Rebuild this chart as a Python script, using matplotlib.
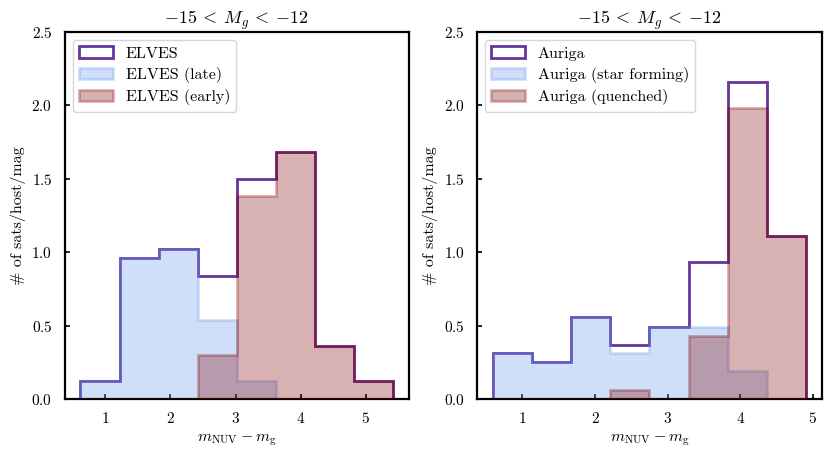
import numpy as np
import matplotlib
matplotlib.use('Agg')
import matplotlib.pyplot as plt

plt.rcParams['font.family'] = 'serif'
plt.rcParams['font.serif'] = ['cmr10']
plt.rcParams['mathtext.fontset'] = 'cm'
plt.rcParams['axes.formatter.use_mathtext'] = True

# ELVES (left panel)
elves_edges = [0.62, 1.22, 1.82, 2.42, 3.02, 3.62, 4.22, 4.82, 5.42]
elves_all = [0.12, 0.96, 1.02, 0.84, 1.50, 1.68, 0.36, 0.12]
elves_late = [0.12, 0.96, 1.02, 0.54, 0.12, 0.0, 0.0, 0.0]
elves_early = [0.0, 0.0, 0.0, 0.30, 1.38, 1.68, 0.36, 0.12]

# Auriga (right panel)
auriga_edges = [0.59, 1.13, 1.67, 2.21, 2.75, 3.29, 3.83, 4.37, 4.91]
auriga_all = [0.31, 0.25, 0.56, 0.37, 0.49, 0.93, 2.16, 1.11]
auriga_sf = [0.31, 0.25, 0.56, 0.31, 0.49, 0.49, 0.19, 0.0]
auriga_q = [0.0, 0.0, 0.0, 0.06, 0.0, 0.43, 1.98, 1.11]

panels = [
    (elves_edges, elves_all, elves_late, elves_early,
     ['ELVES', 'ELVES (late)', 'ELVES (early)']),
    (auriga_edges, auriga_all, auriga_sf, auriga_q,
     ['Auriga', 'Auriga (star forming)', 'Auriga (quenched)']),
]

fig = plt.figure(figsize=(8.31, 4.57), dpi=100)
positions = [[0.078, 0.127, 0.414, 0.803], [0.574, 0.127, 0.415, 0.803]]

for pos, (edges, tot, blue, red, labels) in zip(positions, panels):
    ax = fig.add_axes(pos)
    edges = np.array(edges)
    mids = 0.5 * (edges[:-1] + edges[1:])
    ax.hist(mids, bins=edges, weights=tot, histtype='step',
            color='rebeccapurple', lw=2, label=labels[0], zorder=1)
    ax.hist(mids, bins=edges, weights=blue, histtype='stepfilled',
            facecolor='cornflowerblue', edgecolor='cornflowerblue',
            alpha=0.3, lw=2, label=labels[1], zorder=2)
    ax.hist(mids, bins=edges, weights=red, histtype='stepfilled',
            facecolor='maroon', edgecolor='maroon',
            alpha=0.3, lw=2, label=labels[2], zorder=3)
    ax.set_ylim(0, 2.5)
    ax.set_title(r'$-15 \:<\: M_g \:<\: -12$', fontsize=13)
    ax.set_xlabel(r'$m_{\rm NUV} - m_{\rm g}$', fontsize=11.5)
    ax.set_ylabel('# of sats/host/mag', fontsize=11.5)
    ax.tick_params(direction='in', length=3.5, width=1.2, labelsize=11, pad=9)
    for s in ax.spines.values():
        s.set_linewidth(1.6)
    ax.legend(loc='upper left', fontsize=11.5, handlelength=2.1,
              labelspacing=0.4)

fig.savefig('out.png', dpi=100)
